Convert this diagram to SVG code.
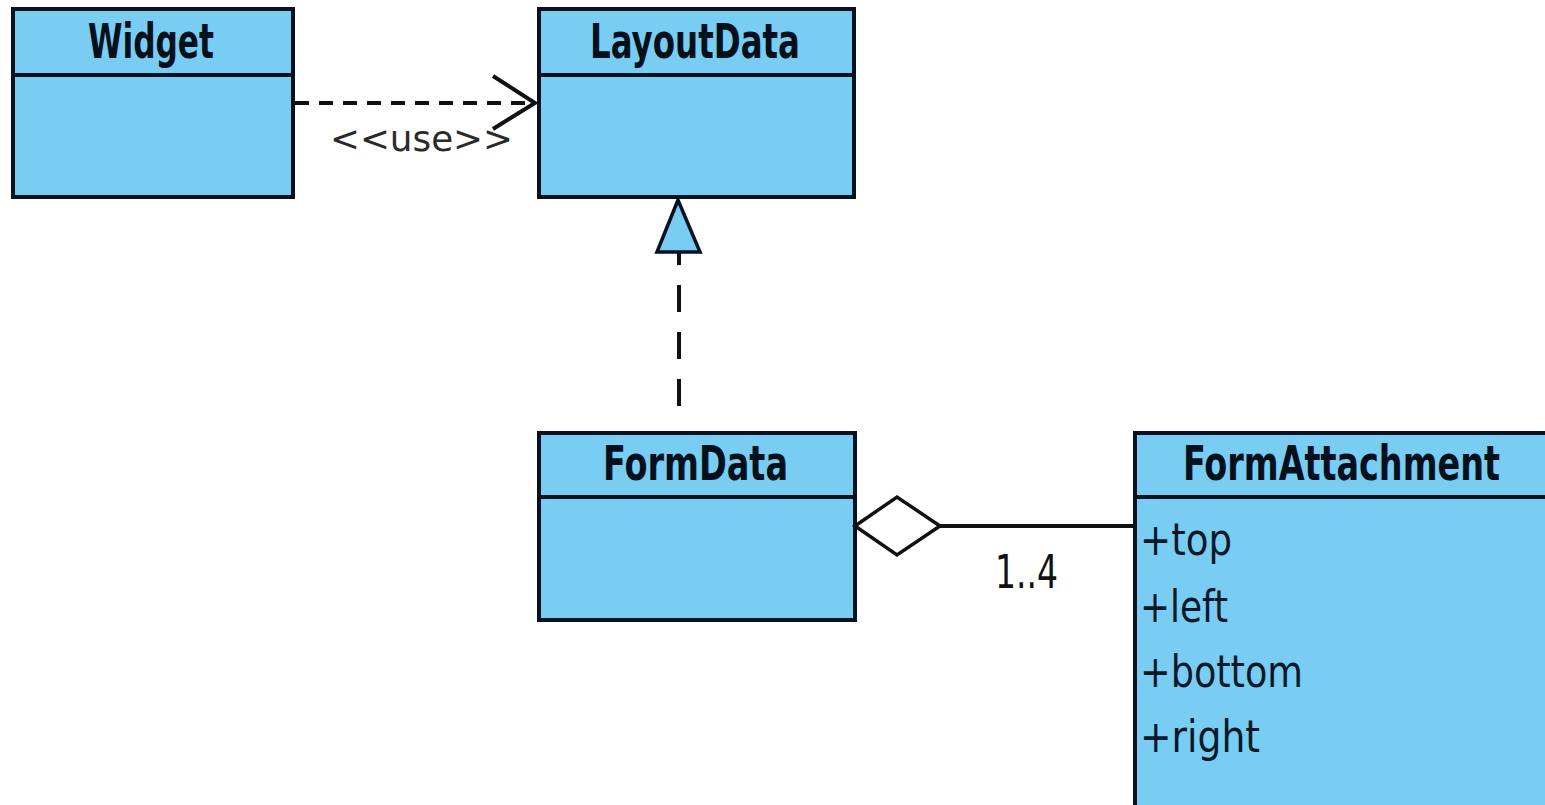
<svg xmlns="http://www.w3.org/2000/svg" width="1545" height="805" viewBox="0 0 1545 805">
  <style>
    .box { fill: #79cdf2; stroke: #06121f; stroke-width: 4; }
    .div { stroke: #06121f; stroke-width: 4; }
    .title { font-family: "DejaVu Sans Condensed", "DejaVu Sans", sans-serif; font-weight: bold; font-size: 48px; fill: #04101c; }
    .attr { font-family: "DejaVu Sans Condensed", "DejaVu Sans", sans-serif; font-size: 44px; fill: #06182a; }
    .label { font-family: "DejaVu Sans Condensed", "DejaVu Sans", sans-serif; font-size: 46px; fill: #111; }
    .stereo { font-family: "DejaVu Sans Condensed", "DejaVu Sans", sans-serif; font-size: 36px; fill: #2a2a2a; }
    .line { fill: none; stroke: #111; stroke-width: 4; }
  </style>
  <rect width="1545" height="805" fill="#ffffff"/>

  <!-- classes -->
  <g id="widget">
    <rect class="box" x="13" y="9" width="280" height="188"/>
    <line class="div" x1="13" y1="75" x2="293" y2="75"/>
    <text class="title" x="88" y="58" textLength="126" lengthAdjust="spacingAndGlyphs">Widget</text>
  </g>

  <g id="layoutdata">
    <rect class="box" x="539" y="9" width="315" height="188"/>
    <line class="div" x1="539" y1="75" x2="854" y2="75"/>
    <text class="title" x="590" y="58" textLength="210" lengthAdjust="spacingAndGlyphs">LayoutData</text>
  </g>

  <g id="formdata">
    <rect class="box" x="539" y="433" width="316" height="187"/>
    <line class="div" x1="539" y1="497" x2="855" y2="497"/>
    <text class="title" x="603" y="480" textLength="185" lengthAdjust="spacingAndGlyphs">FormData</text>
  </g>

  <!-- this class runs off the right and bottom edges of the canvas -->
  <g id="formattachment">
    <rect class="box" x="1135" y="433" width="412" height="374"/>
    <line class="div" x1="1135" y1="497" x2="1547" y2="497"/>
    <text class="title" x="1183" y="480" textLength="317" lengthAdjust="spacingAndGlyphs">FormAttachment</text>
    <text class="attr" x="1140" y="555" textLength="92" lengthAdjust="spacingAndGlyphs">+top</text>
    <text class="attr" x="1140" y="622" textLength="88" lengthAdjust="spacingAndGlyphs">+left</text>
    <text class="attr" x="1140" y="687" textLength="163" lengthAdjust="spacingAndGlyphs">+bottom</text>
    <text class="attr" x="1140" y="752" textLength="120" lengthAdjust="spacingAndGlyphs">+right</text>
  </g>

  <!-- relationships -->
  <g id="connectors">
    <!-- Widget uses LayoutData -->
    <line class="line" x1="295" y1="103" x2="534" y2="103" stroke-dasharray="14 10" stroke-width="3.5"/>
    <polyline class="line" points="493,76 535,103 493,129" stroke-width="3.5"/>
    <text class="stereo" x="330" y="151" textLength="183" lengthAdjust="spacingAndGlyphs">&lt;&lt;use&gt;&gt;</text>

    <!-- FormData realizes LayoutData -->
    <line class="line" x1="679" y1="252" x2="679" y2="410" stroke-width="3.5" stroke-dasharray="13 20 27 20 27 20 27"/>
    <polygon points="678,200 657,252 700,252" fill="#79cdf2" stroke="#06121f" stroke-width="3.5" stroke-linejoin="miter"/>

    <!-- FormData aggregates FormAttachment -->
    <line class="line" x1="940" y1="526" x2="1135" y2="526"/>
    <polygon points="855,526 897,497 940,526 897,555" fill="#ffffff" stroke="#111" stroke-width="3.5"/>
    <text class="label" x="995" y="588" textLength="63" lengthAdjust="spacingAndGlyphs">1..4</text>
  </g>
</svg>
